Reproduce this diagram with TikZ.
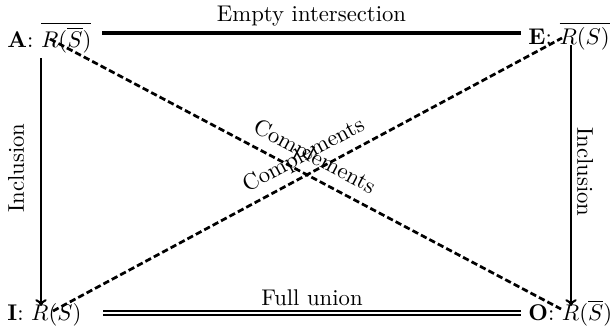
\documentclass[tikz,border=0pt]{standalone}
\usetikzlibrary{arrows.meta}
\begin{document}
\begin{tikzpicture}[x=0.4405pt,y=-0.4405pt,
  corner/.style={inner sep=0pt,anchor=base west},
  lbl/.style={inner sep=1pt},
  incl/.style={line width=0.9pt,-{To[length=3pt,width=5pt]}},
  compl/.style={line width=1.2pt,dash pattern=on 2.8pt off 1.4pt}]
\useasboundingbox (0,0) rectangle (610,326);
\node[corner] (A) at (7,47) {\textbf{A}: $\overline{R(\overline{S})}$};
\node[corner] (E) at (528,44) {\textbf{E}: $\overline{R(S)}$};
\node[corner] (I) at (7,320) {\textbf{I}: $R(S)$};
\node[corner] (O) at (528,320) {\textbf{O}: $R(\overline{S})$};
\coordinate (tA) at (102,33);
\coordinate (tE) at (521,33);
\coordinate (bI) at (103,313);
\coordinate (bO) at (521,313);
\coordinate (aL) at (41,58);
\coordinate (iL) at (41,306);
\coordinate (eR) at (571,45);
\coordinate (oR) at (571,306);
\coordinate (aD) at (50,39);
\coordinate (oD) at (561,309);
\coordinate (iD) at (53,311);
\coordinate (eD) at (562,38);
\draw[line width=1.6pt] (tA) -- node[lbl,above=1pt] {Empty intersection} (tE);
\draw[double,double distance=1.3pt,line width=0.6pt] (bI) -- node[lbl,above=2pt] {Full union} (bO);
\draw[incl] (aL) -- (iL);
\node[lbl,rotate=90] (inclL) at (16,168) {Inclusion};
\draw[incl] (eR) -- (oR);
\node[lbl,rotate=-90] (inclR) at (585,172) {Inclusion};
\draw[compl] (aD) -- node[lbl,above=2pt,sloped] {Complements} (oD);
\draw[compl] (iD) -- node[lbl,above=2pt,sloped,pos=0.51] {Complements} (eD);
\end{tikzpicture}
\end{document}
